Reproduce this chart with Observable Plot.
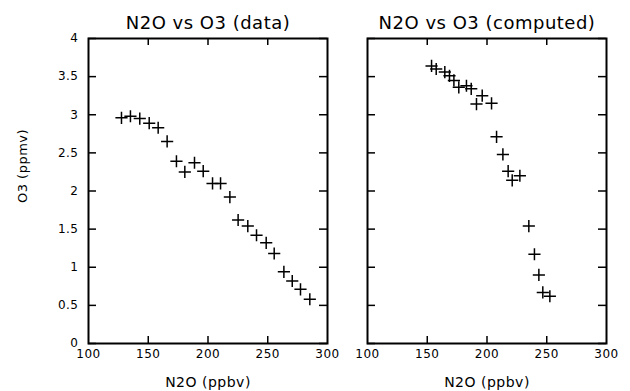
<!DOCTYPE html>
<html><head><meta charset="utf-8">
<script src="https://cdn.jsdelivr.net/npm/d3@7"></script>
<script src="https://cdn.jsdelivr.net/npm/@observablehq/plot@0.6"></script>
<style>
body{margin:0;background:#fff}
#chart{position:relative;width:630px;height:391px;font-family:"DejaVu Sans",sans-serif}
#chart svg{position:absolute;top:0;overflow:visible}
#chart svg text{letter-spacing:0.5px}
#chart g[aria-label="title"] text{letter-spacing:1.5px}
#chart g[aria-label="axis-label"] text{letter-spacing:1px}
</style></head><body><div id="chart"></div>
<script>
// Measured data (left panel)
const dataN2O = [127.6,135.1,142.9,150.8,158.3,165.8,173.6,180.6,188.7,196.0,203.8,210.5,218.3,225.2,233.3,240.6,248.7,255.4,263.5,270.5,277.4,285.2];
const dataO3  = [2.96,2.98,2.95,2.89,2.83,2.65,2.39,2.25,2.37,2.26,2.10,2.10,1.92,1.62,1.54,1.42,1.32,1.18,0.94,0.82,0.71,0.58];
// Computed (right panel)
const compN2O = [153.6,157.5,164.7,168.6,172.3,176.4,182.8,186.8,191.2,196.0,203.8,208.0,213.3,217.7,221.1,227.5,235.0,239.7,243.4,246.7,252.6];
const compO3  = [3.64,3.60,3.56,3.51,3.45,3.36,3.38,3.34,3.14,3.25,3.15,2.71,2.48,2.26,2.14,2.20,1.54,1.17,0.90,0.67,0.62];

const xTicks = [100,150,200,250,300];
const xInnerTicks = [150,200,250];
const yTicks = [0,0.5,1,1.5,2,2.5,3,3.5,4];
const titles = ["N2O vs O3 (data)","N2O vs O3 (computed)"];
const xLabel = "N2O (ppbv)";
const yLabel = "O3 (ppmv)";

function panel(xs, ys, title, o) {
  const pts = xs.map((x,i)=>({x, y: ys[i]}));
  const frameW = o.width - o.marginLeft - o.marginRight;
  const frameH = 391 - 38 - 48;
  const marks = [
    Plot.ruleX(xInnerTicks, {x: d=>d, insetTop: frameH-7, stroke:"black", strokeWidth:1.5}),
    Plot.ruleX(xInnerTicks, {x: d=>d, insetBottom: frameH-7, stroke:"black", strokeWidth:1.5}),
    Plot.ruleY(yTicks, {y: d=>d, insetRight: frameW-8, stroke:"black", strokeWidth:1.5}),
    Plot.ruleY(yTicks, {y: d=>d, insetLeft: frameW-8, stroke:"black", strokeWidth:1.5}),
    Plot.frame({stroke:"black", strokeWidth:2}),
    Plot.dot(pts, {x:"x", y:"y", symbol:"plus", r:4, stroke:"black", strokeWidth:1.5}),
    Plot.text([title], {frameAnchor:"top", lineAnchor:"middle", dy:-15, fontSize:18, ariaLabel:"title"}),
    Plot.text([xLabel], {frameAnchor:"bottom", lineAnchor:"middle", dy:39, fontSize:14, ariaLabel:"axis-label"})
  ];
  if (o.showY) marks.push(Plot.text([yLabel], {frameAnchor:"left", textAnchor:"middle", lineAnchor:"middle", rotate:-90, dx:-66, dy:-25, fontSize:13, ariaLabel:"axis-label"}));
  const svg = Plot.plot({
    width: o.width, height: 391,
    marginLeft: o.marginLeft, marginRight: o.marginRight, marginTop: 38, marginBottom: 48,
    style: {background:"none", overflow:"visible", fontFamily:"DejaVu Sans, sans-serif", fontSize:"12px", color:"black"},
    x: {domain:[100,300], ticks: xTicks, tickSize:0, tickPadding:6, label:null, tickFormat: d=>String(d)},
    y: {domain:[0,4], ticks: yTicks, tickSize:0, tickPadding:10, label:null, axis: o.showY ? "left" : null,
        tickFormat: d => Number.isInteger(d) ? String(d) : d.toFixed(1)},
    marks
  });
  svg.style.left = o.left + "px";
  return svg;
}

const chart = document.getElementById("chart");
chart.appendChild(panel(dataN2O, dataO3, titles[0], {left:0, width:340, marginLeft:88, marginRight:13, showY:true}));
chart.appendChild(panel(compN2O, compO3, titles[1], {left:340, width:290, marginLeft:27, marginRight:24, showY:false}));
</script></body></html>
